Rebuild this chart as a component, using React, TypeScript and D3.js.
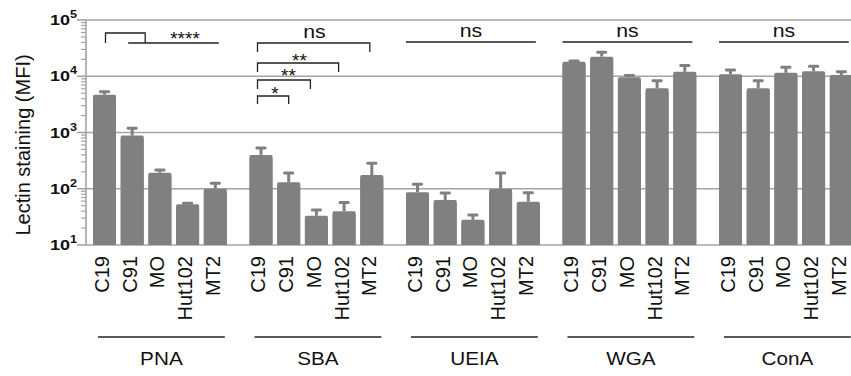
import React from "react";
import * as d3 from "d3";

const lectins = ["PNA", "SBA", "UEIA", "WGA", "ConA"];
const cells = ["C19", "C91", "MO", "Hut102", "MT2"];

// mean MFI per cell line, one array per lectin
const pnaMean = [4700, 880, 193, 53, 100];
const sbaMean = [400, 130, 33, 40, 175];
const ueiaMean = [87, 63, 28, 99, 59];
const wgaMean = [18100, 22300, 9600, 6100, 12000];
const conaMean = [10900, 6100, 11500, 12300, 10500];

// top of error bar (mean + SEM)
const pnaErr = [5300, 1190, 215, 55, 125];
const sbaErr = [530, 190, 42, 57, 285];
const ueiaErr = [120, 84, 34, 190, 85];
const wgaErr = [18700, 26700, 10300, 8300, 15600];
const conaErr = [12900, 8300, 14400, 15000, 12000];

const meanSets = [pnaMean, sbaMean, ueiaMean, wgaMean, conaMean];
const errSets = [pnaErr, sbaErr, ueiaErr, wgaErr, conaErr];

const yTicks = [10, 100, 1000, 10000, 100000];
const yTitle = "Lectin staining (MFI)";

// significance annotations
const nsGroups = ["UEIA", "WGA", "ConA"];
const sbaBracketTo = [4, 3, 2, 1];
const sbaBracketLabels = ["ns", "**", "**", "*"];
const pnaLabel = "****";

const W = 851;
const H = 376;
const FONT = "'Liberation Sans', Arial, Helvetica, sans-serif";
const BAR = "#808080";
const GRID = "#a4a4a4";

export default function App() {
  const y = d3.scaleLog().domain([10, 100000]).range([245, 20]);
  const gx = d3
    .scaleBand<string>()
    .domain(lectins)
    .range([93, 852.8])
    .paddingInner(0.145)
    .paddingOuter(0);
  const ix = d3
    .scaleBand<string>()
    .domain(cells)
    .range([0, gx.bandwidth()])
    .paddingInner(0.17)
    .paddingOuter(0);
  const bw = ix.bandwidth();
  const cx = (g: string, c: string) => (gx(g) as number) + (ix(c) as number) + bw / 2;

  const minor: number[] = [];
  for (let d = 1; d < 5; d++) for (let k = 2; k <= 9; k++) minor.push(k * Math.pow(10, d));

  const axisX = 86;
  const ink = "#222";
  const annW = 1.3;

  // SBA bracket geometry (px)
  const sbaLevels = [43, 63, 80, 96];
  const sbaDrop = [9, 9, 9, 8];
  const sbaRightOff = [-2, -5.5, -6, 0];
  const starPos = [
    [0, 0],
    [299.5, 66.5],
    [288.5, 81.5],
    [275, 100],
  ];

  const pL = cx("PNA", "C19") + 1;
  const pR = cx("PNA", "C91") + 13;
  const pnaLineL = cx("PNA", "C91") - 4;
  const pnaLineR = (gx("PNA") as number) + gx.bandwidth() - 8;

  return (
    <svg
      width={W}
      height={H}
      style={{ position: "absolute", left: 0, top: 0, background: "#fff" }}
      fontFamily={FONT}
    >
      {/* gridlines */}
      {yTicks.slice(1).map((t) => (
        <line key={"g" + t} x1={axisX} x2={W} y1={y(t)} y2={y(t)} stroke={GRID} strokeWidth={1.6} />
      ))}
      {/* baseline */}
      <line x1={axisX} x2={W} y1={y(10)} y2={y(10)} stroke={GRID} strokeWidth={1.6} />

      {/* bars and error bars */}
      {lectins.map((g, gi) =>
        cells.map((c, ci) => {
          const m = meanSets[gi][ci];
          const e = errSets[gi][ci];
          const x0 = (gx(g) as number) + (ix(c) as number);
          const xc = x0 + bw / 2;
          const top = y(m);
          const etop = y(e);
          return (
            <g key={g + c}>
              <line x1={xc} x2={xc} y1={top} y2={etop} stroke={BAR} strokeWidth={3} />
              <rect x={xc - 5.5} y={etop - 1.5} width={11} height={3} rx={1.2} fill={BAR} />
              <rect x={x0} y={top} width={bw} height={y(10) - top} fill={BAR} rx={1.5} />
              <rect x={x0} y={top + 3} width={bw} height={y(10) - top - 3} fill={BAR} />
            </g>
          );
        })
      )}

      {/* y axis */}
      <line x1={axisX} x2={axisX} y1={y(100000)} y2={y(10)} stroke={GRID} strokeWidth={1.6} />
      {minor.map((t) => (
        <line key={"m" + t} x1={axisX - 5} x2={axisX} y1={y(t)} y2={y(t)} stroke={GRID} strokeWidth={1.2} />
      ))}
      {yTicks.map((t) => (
        <line key={"t" + t} x1={axisX - 9} x2={axisX} y1={y(t)} y2={y(t)} stroke={GRID} strokeWidth={1.6} />
      ))}
      {yTicks.map((t) => (
        <g key={"l" + t} transform={`translate(77,${y(t) + 5}) scale(1.2,1)`}>
          <text textAnchor="end" fontWeight="bold" fontSize={15} fill="#111">
            10
            <tspan dy={-7} fontSize={10.5}>
              {String(Math.round(Math.log10(t)))}
            </tspan>
          </text>
        </g>
      ))}
      <text
        transform={`translate(30,145) rotate(-90)`}
        textAnchor="middle"
        fontSize={20}
        fill="#111"
      >
        {yTitle}
      </text>

      {/* category labels */}
      {lectins.map((g) =>
        cells.map((c) => (
          <text
            key={"x" + g + c}
            transform={`translate(${cx(g, c) + 4.5},256) rotate(-90)`}
            textAnchor="end"
            fontSize={20}
            fill="#111"
          >
            {c}
          </text>
        ))
      )}
      {/* group lines and labels */}
      {lectins.map((g) => {
        const gl = (gx(g) as number) + 5;
        const gr = (gx(g) as number) + gx.bandwidth() - 2;
        const mid = (gl + gr) / 2;
        return (
          <g key={"grp" + g}>
            <line x1={gl} x2={gr} y1={337} y2={337} stroke={ink} strokeWidth={1.5} />
            <g transform={`translate(${mid},365) scale(1.12,1)`}>
              <text textAnchor="middle" fontSize={18.5} fill="#111">
                {g}
              </text>
            </g>
          </g>
        );
      })}

      {/* PNA annotation */}
      <path d={`M${pL},43V33H${pR}V43`} fill="none" stroke={ink} strokeWidth={annW} />
      <line x1={pnaLineL} x2={pnaLineR} y1={43} y2={43} stroke={ink} strokeWidth={annW} />
      <text x={185} y={44.5} textAnchor="middle" fontSize={19} fill="#111">
        {pnaLabel}
      </text>

      {/* SBA brackets */}
      {sbaBracketTo.map((to, i) => {
        const l = (gx("SBA") as number) + 8;
        const r = cx("SBA", cells[to]) + sbaRightOff[i];
        const lv = sbaLevels[i];
        return (
          <path
            key={"sb" + i}
            d={`M${l},${lv + sbaDrop[i]}V${lv}H${r}V${lv + sbaDrop[i]}`}
            fill="none"
            stroke={ink}
            strokeWidth={annW}
          />
        );
      })}
      <g transform={`translate(${(gx("SBA") as number) + gx.bandwidth() / 2 - 2},37.5) scale(1.12,1)`}>
        <text textAnchor="middle" fontSize={19} fill="#111">
          {sbaBracketLabels[0]}
        </text>
      </g>
      {[1, 2, 3].map((i) => (
        <text key={"st" + i} x={starPos[i][0]} y={starPos[i][1]} textAnchor="middle" fontSize={19} fill="#111">
          {sbaBracketLabels[i]}
        </text>
      ))}

      {/* ns lines for UEIA, WGA, ConA */}
      {nsGroups.map((g) => {
        const l = (gx(g) as number) + 0;
        const r = (gx(g) as number) + gx.bandwidth() - 4;
        return (
          <g key={"ns" + g}>
            <line x1={l} x2={r} y1={42} y2={42} stroke={ink} strokeWidth={annW} />
            <g transform={`translate(${(l + r) / 2},37) scale(1.12,1)`}>
              <text textAnchor="middle" fontSize={19} fill="#111">
                ns
              </text>
            </g>
          </g>
        );
      })}
    </svg>
  );
}
